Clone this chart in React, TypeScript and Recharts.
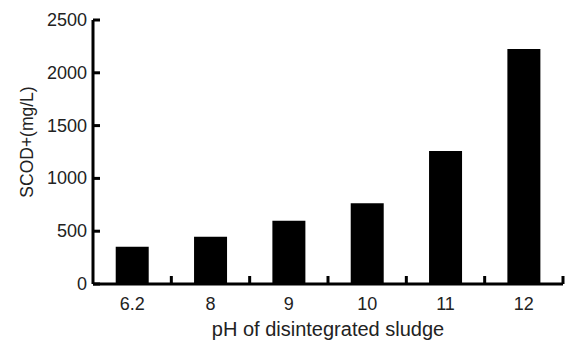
import { Bar, BarChart, XAxis, YAxis, Label } from "recharts";

const phLabels = ["6.2", "8", "9", "10", "11", "12"];
const scodValues = [353, 448, 599, 764, 1260, 2225];
const yTicks = [0, 500, 1000, 1500, 2000, 2500];

const W = 567;
const H = 342;
const M = { top: 20, right: 4, left: 33, bottom: 28 };
const Y_AXIS_W = 60;
const X_AXIS_H = 30;
const FONT = "'Liberation Sans', Arial, Helvetica, sans-serif";

const data = phLabels.map((ph, i) => ({ ph, scod: scodValues[i] }));
const plotW = W - M.left - M.right - Y_AXIS_W;
const bandW = plotW / phLabels.length;

// x ticks sit between the categories and point up into the plot
const renderXTick = (props: any) => {
    const { x, y, payload } = props;
    const ax = y - 6;
    const bx = x + bandW / 2;
    return (
        <g key={`xt-${payload.value}`}>
            <rect x={bx - 1.5} y={ax - 8} width={3} height={8} fill="#000" />
            <text x={x} y={y} dy={20} textAnchor="middle" fill="#222" fontSize={18} fontFamily={FONT}>
                {payload.value}
            </text>
        </g>
    );
};

// y ticks point right, into the plot
const renderYTick = (props: any) => {
    const { x, y, payload } = props;
    return (
        <g key={`yt-${payload.value}`}>
            <rect x={x + 6} y={y - 1.5} width={7} height={3} fill="#000" />
            <text x={x} y={y} dy={6} textAnchor="end" fill="#222" fontSize={18} fontFamily={FONT}>
                {payload.value}
            </text>
        </g>
    );
};

export default function App() {
    return (
        <div style={{ position: "absolute", left: 0, top: 0, width: W, height: H, background: "#fff" }}>
            <BarChart width={W} height={H} data={data} margin={M} barCategoryGap="29%">
                <XAxis
                    dataKey="ph"
                    height={X_AXIS_H}
                    tick={renderXTick}
                    tickLine={false}
                    tickSize={0}
                    tickMargin={6}
                    axisLine={{ stroke: "#000", strokeWidth: 3 }}
                >
                    <Label
                        value="pH of disintegrated sludge"
                        position="bottom"
                        offset={8}
                        style={{ fill: "#222", fontSize: 20, fontFamily: FONT }}
                    />
                </XAxis>
                <YAxis
                    width={Y_AXIS_W}
                    domain={[0, 2500]}
                    ticks={yTicks}
                    interval={0}
                    tick={renderYTick}
                    tickLine={false}
                    tickSize={0}
                    tickMargin={6}
                    axisLine={{ stroke: "#000", strokeWidth: 3 }}
                >
                    <Label
                        value="SCOD+(mg/L)"
                        angle={-90}
                        position="insideLeft"
                        offset={-6}
                        dy={-10}
                        style={{ fill: "#222", fontSize: 17.5, fontFamily: FONT, textAnchor: "middle" }}
                    />
                </YAxis>
                <Bar dataKey="scod" fill="#000" isAnimationActive={false} />
            </BarChart>
        </div>
    );
}
